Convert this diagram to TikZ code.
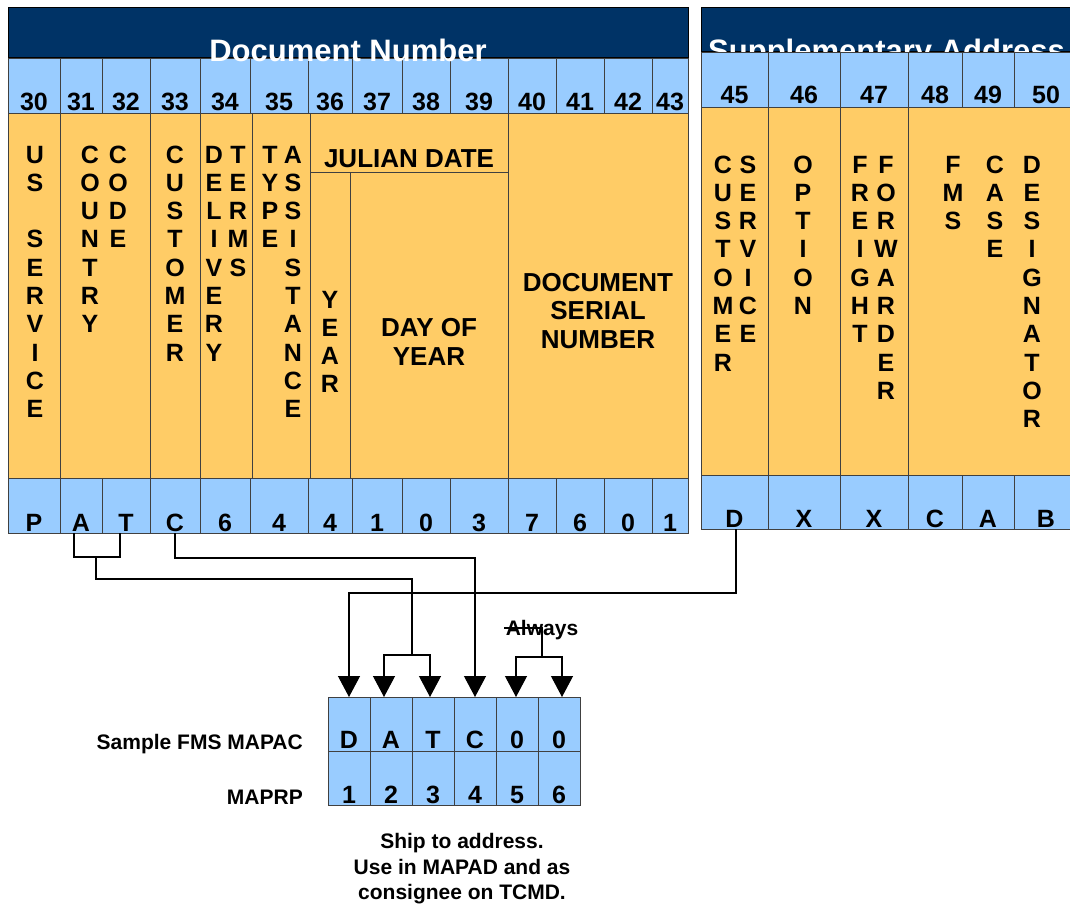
\documentclass[tikz,border=0pt]{standalone}
\usepackage{fontspec}
\setmainfont{Liberation Sans}
\usetikzlibrary{arrows.meta}
\definecolor{navy}{HTML}{003366}
\definecolor{lblue}{HTML}{99CCFF}
\definecolor{orng}{HTML}{FFCC66}
\definecolor{bord}{HTML}{404040}
\tikzset{
  cellbox/.style={draw=bord, line width=0.9pt, inner sep=0pt, outer sep=0pt},
  numcell/.style={cellbox, fill=lblue},
  orcell/.style={cellbox, fill=orng},
  hdr/.style={draw=black, fill=navy, line width=1pt, inner sep=0pt, outer sep=0pt},
  hdrtxt/.style={font=\fontsize{31}{34}\selectfont\bfseries, text=white, inner sep=0pt},
  num/.style={font=\fontsize{25}{28}\selectfont\bfseries, anchor=base, inner sep=0pt},
  vl/.style={font=\fontsize{25}{28}\selectfont\bfseries, anchor=base, inner sep=0pt},
  big/.style={font=\fontsize{26}{29}\selectfont\bfseries, anchor=base, inner sep=0pt},
  small/.style={font=\fontsize{21}{25}\selectfont\bfseries, inner sep=0pt},
  conn/.style={line width=1.2pt, draw=black},
  arr/.style={conn, -{Triangle[width=22pt,length=21pt]}},
}
\newcommand\boxnode[6]{%
  \node[#6, minimum width={(#4-#2)*1pt}, minimum height={(#5-#3)*1pt}] (#1) at ({(#2+#4)/2},{(#3+#5)/2}) {};}
\newcommand\cellrow[6]{%
  \foreach \xa/\xb/\n/\t in {#4}{%
    \node[#5, minimum width={(\xb-\xa)*1pt}, minimum height={(#3-#2)*1pt}] (#1\n) at ({(\xa+\xb)/2},{(#2+#3)/2}) {};
    \node[num] (#1\n-t) at ([yshift=#6]#1\n.south) {\t};
  }}
\newcommand\vword[4]{%
  \foreach \vch [count=\i] in {#4}{\node[vl] (#1-\i) at (#2,{#3+(\i-1)*28.3}) {\vch};}}
\begin{document}
\begin{tikzpicture}[x=1pt,y=-1pt]
\useasboundingbox (0,0) rectangle (1070,907);
\clip (0,0) rectangle (1070,907);
\fill[white] (0,0) rectangle (1070,907);

% ---------------- left table ----------------
\boxnode{hdrL}{8}{8}{688}{58}{hdr}
\boxnode{oUS}{8}{113}{60}{478}{orcell}
\boxnode{oCC}{60}{113}{150}{478}{orcell}
\boxnode{oCU}{150}{113}{200}{478}{orcell}
\boxnode{oDT}{200}{113}{252}{478}{orcell}
\boxnode{oTA}{252}{113}{310}{478}{orcell}
\boxnode{oJD}{310}{113}{508}{172}{orcell}
\boxnode{oYR}{310}{172}{350}{478}{orcell}
\boxnode{oDY}{350}{172}{508}{478}{orcell}
\boxnode{oDS}{508}{113}{688}{478}{orcell}

\cellrow{n}{58}{113}{8/60/30/30, 60/102/31/31, 102/150/32/32, 150/200/33/33, 200/250/34/34, 250/308/35/35, 308/352/36/36, 352/402/37/37, 402/450/38/38, 450/508/39/39, 508/556/40/40, 556/604/41/41, 604/652/42/42, 652/688/43/43}{numcell}{3pt}
\cellrow{b}{478}{533}{8/60/30/P, 60/102/31/A, 102/150/32/T, 150/200/33/C, 200/250/34/6, 250/308/35/4, 308/352/36/4, 352/402/37/1, 402/450/38/0, 450/508/39/3, 508/556/40/7, 556/604/41/6, 604/652/42/0, 652/688/43/1}{numcell}{2pt}

\node[hdrtxt, anchor=base] (tDN) at (348,61) {Document Number};

\vword{us}{35}{163}{U,S,{},S,E,R,V,I,C,E}
\vword{cty}{90}{163}{C,O,U,N,T,R,Y}
\vword{cod}{118}{163}{C,O,D,E}
\vword{cus}{175}{163}{C,U,S,T,O,M,E,R}
\vword{del}{214}{163}{D,E,L,I,V,E,R,Y}
\vword{trm}{238}{163}{T,E,R,M,S}
\vword{typ}{270}{163}{T,Y,P,E}
\vword{ast}{293}{163}{A,S,S,I,S,T,A,N,C,E}
\vword{yr}{330}{308}{Y,E,A,R}
\node[big] (tJD) at (409,167) {JULIAN DATE};
\node[big] (tDY1) at (429,336) {DAY OF};
\node[big] (tDY2) at (429,365) {YEAR};
\node[big] (tDS1) at (598,291) {DOCUMENT};
\node[big] (tDS2) at (598,319) {SERIAL};
\node[big] (tDS3) at (598,348) {NUMBER};

% ---------------- right table ----------------
\boxnode{hdrR}{701}{8}{1078}{52}{hdr}
\node[hdrtxt, anchor=base west] (tSA) at (708,61) {Supplementary Address};
\boxnode{oR1}{701}{107}{768}{475}{orcell}
\boxnode{oR2}{768}{107}{840}{475}{orcell}
\boxnode{oR3}{840}{107}{908}{475}{orcell}
\boxnode{oR4}{908}{107}{1078}{475}{orcell}
\cellrow{rn}{52}{107}{701/768/45/45, 768/840/46/46, 840/908/47/47, 908/962/48/48, 962/1014/49/49, 1014/1078/50/50}{numcell}{4pt}
\cellrow{r}{475}{529}{701/768/45/D, 768/840/46/X, 840/908/47/X, 908/962/48/C, 962/1014/49/A, 1014/1078/50/B}{numcell}{2pt}

\vword{rcu}{723}{173}{C,U,S,T,O,M,E,R}
\vword{rse}{748}{173}{S,E,R,V,I,C,E}
\vword{rop}{803}{173}{O,P,T,I,O,N}
\vword{rfr}{860}{173}{F,R,E,I,G,H,T}
\vword{rfw}{886}{173}{F,O,R,W,A,R,D,E,R}
\vword{rfm}{953}{173}{F,M,S}
\vword{rca}{995}{173}{C,A,S,E}
\vword{rde}{1032}{173}{D,E,S,I,G,N,A,T,O,R}

% ---------------- MAPAC ----------------
\cellrow{m}{697}{751}{328/370/1/D, 370/412/2/A, 412/454/3/T, 454/496/4/C, 496/538/5/0, 538/580/6/0}{numcell}{3pt}
\cellrow{p}{751}{805}{328/370/1/1, 370/412/2/2, 412/454/3/3, 454/496/4/4, 496/538/5/5, 538/580/6/6}{numcell}{2pt}

\node[small, anchor=base east] (sfm) at (303,749) {Sample FMS MAPAC};
\node[small, anchor=base east] (mrp) at (303,804) {MAPRP};
\node[small, anchor=base] (cap1) at (462,848) {Ship to address.};
\node[small, anchor=base] (cap2) at (462,874) {Use in MAPAD and as};
\node[small, anchor=base] (cap3) at (462,899) {consignee on TCMD.};
\node[small, anchor=base] (alw) at (542,635) {Always};

% ---------------- connectors ----------------
\coordinate (atmid) at (96,557);
\coordinate (atbr) at (412,655);
\coordinate (albr) at (542,657);
\draw[conn] ([xshift=-7pt]b31.south) |- (atmid) -| ([xshift=-6pt]b32.south);
\draw[conn] (atmid) -- (96,579) -| (atbr);
\draw[arr] (atbr) -| ([xshift=-7pt]m2.north);
\draw[arr] (atbr) -| ([xshift=-3pt]m3.north);
\draw[arr] (b33.south) -- ++(0,25) -| (m4.north);
\draw[arr] ([xshift=1.5pt]r45.south) -- ++(0,64) -| (m1.north);
\draw[conn] (504,628) -| (albr);
\draw[arr] (albr) -| ([xshift=-1pt]m5.north);
\draw[arr] (albr) -| ([xshift=3pt]m6.north);
\end{tikzpicture}
\end{document}
